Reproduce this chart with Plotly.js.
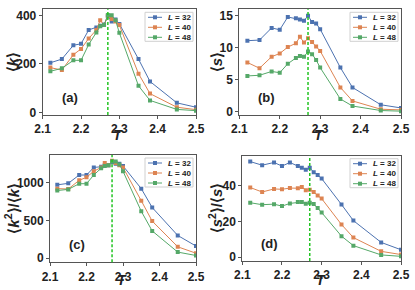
<!DOCTYPE html>
<html>
<head>
<meta charset="utf-8">
<script src="https://cdn.plot.ly/plotly-3.0.1.min.js"></script>
<style>html,body{margin:0;padding:0;background:#fff;}#chart{width:415px;height:290px;}</style>
</head>
<body>
<div id="chart"></div>
<script>
const T = [2.12, 2.15, 2.18, 2.20, 2.22, 2.24, 2.25, 2.26, 2.27, 2.28, 2.29, 2.30, 2.35, 2.38, 2.45, 2.50];
const Tc = 2.27;
const sizesL = ["32", "40", "48"];

const k32 = [205, 220, 277, 283, 340, 350, 357, 362, 395, 375, 383, 365, 220, 128, 40, 22];
const k40 = [185, 175, 238, 262, 305, 340, 380, 360, 398, 385, 375, 360, 160, 78, 22, 12];
const k48 = [170, 182, 215, 215, 280, 330, 355, 360, 402, 400, 380, 328, 110, 50, 13, 8];

const s32 = [11.1, 11.2, 13.1, 12.8, 14.8, 14.6, 14.4, 14.2, 15.0, 14.0, 13.8, 12.9, 6.9, 3.8, 1.1, 0.6];
const s40 = [7.7, 6.8, 8.6, 9.1, 10.1, 10.7, 11.7, 10.8, 11.5, 10.9, 10.2, 9.5, 3.8, 1.7, 0.4, 0.3];
const s48 = [5.6, 5.7, 6.3, 6.1, 7.5, 8.4, 8.7, 8.6, 9.4, 9.0, 8.1, 6.9, 2.0, 0.9, 0.2, 0.1];

const kk32 = [970, 990, 1100, 1100, 1200, 1210, 1230, 1230, 1270, 1250, 1250, 1220, 920, 670, 300, 160];
const kk40 = [920, 915, 1030, 1070, 1150, 1200, 1260, 1230, 1290, 1260, 1230, 1200, 760, 490, 150, 65];
const kk48 = [895, 910, 985, 985, 1100, 1190, 1220, 1230, 1280, 1280, 1240, 1150, 620, 360, 80, 35];

const ss32 = [53.5, 51.5, 53, 51, 53, 51, 50, 49, 50, 47.5, 46, 44, 29.5, 20.5, 8.3, 4.2];
const ss40 = [39, 36.5, 38.2, 38, 38.7, 38.6, 39.3, 37.5, 37.8, 36.5, 34.5, 32.8, 18.3, 11, 3.3, 1.5];
const ss48 = [30.5, 29.4, 29.7, 28.6, 30.1, 30.9, 30.9, 29.9, 30.5, 29.8, 27.5, 25, 11.8, 6.5, 1.3, 0.5];

const colors = ["#4c72b0", "#dd8452", "#55a868"];
const FONT = "Liberation Sans, Arial, sans-serif";
const W = 415, H = 290;

// panel rectangles in pixels: left, right, top, bottom
const panels = [
  {data: [k32, k40, k48], n: "", rect: [42.7, 196, 9.3, 115], range: [-10, 425], ticks: [0, 200, 400],
   title: "⟨<i>k</i>⟩", label: "(a)", ytx: 12},
  {data: [s32, s40, s48], n: "2", rect: [239.3, 401, 9.3, 115], range: [-0.5, 16], ticks: [0, 5, 10, 15],
   title: "⟨<i>s</i>⟩", label: "(b)", ytx: 216},
  {data: [kk32, kk40, kk48], n: "3", rect: [50, 196, 155, 262.3], range: [-55, 1365], ticks: [0, 500, 1000],
   title: "⟨<i>k</i><sup>2</sup>⟩/⟨<i>k</i>⟩", label: "(c)", ytx: 12},
  {data: [ss32, ss40, ss48], n: "4", rect: [242.3, 401, 155.7, 261], range: [-2.1, 56.8], ticks: [0, 20, 40],
   title: "⟨<i>s</i><sup>2</sup>⟩/⟨<i>s</i>⟩", label: "(d)", ytx: 215}
];

const px = x => x / W;
const py = y => 1 - y / H;

const traces = [];
const shapes = [];
const annotations = [];
const layout = {
  width: W, height: H,
  margin: {l: 0, r: 0, t: 0, b: 0},
  paper_bgcolor: "#fff", plot_bgcolor: "#fff",
  showlegend: false
};

const tickfont = {family: FONT, size: 12, color: "#222", weight: "bold"};

panels.forEach(p => {
  const [l, r, t, b] = p.rect;
  const xa = "x" + p.n, ya = "y" + p.n;
  layout["xaxis" + p.n] = {
    domain: [px(l), px(r)], anchor: ya, range: [2.1, 2.5],
    tickvals: [2.1, 2.2, 2.3, 2.4, 2.5], ticktext: ["2.1", "2.2", "2.3", "2.4", "2.5"],
    showline: true, mirror: true, linecolor: "#555", linewidth: 1,
    ticks: "outside", ticklen: 3, tickcolor: "#555", showgrid: false, zeroline: false,
    tickfont: tickfont
  };
  layout["yaxis" + p.n] = {
    domain: [py(b), py(t)], anchor: xa, range: p.range, tickvals: p.ticks,
    showline: true, mirror: true, linecolor: "#555", linewidth: 1,
    ticks: "outside", ticklen: 3, tickcolor: "#555", showgrid: false, zeroline: false,
    tickfont: tickfont
  };
  p.data.forEach((vals, i) => {
    traces.push({
      x: T, y: vals, xaxis: xa, yaxis: ya,
      type: "scatter", mode: "lines+markers", name: "L = " + sizesL[i],
      line: {color: colors[i], width: 1},
      marker: {color: colors[i], symbol: "square", size: 4}
    });
  });
  // critical temperature line
  shapes.push({
    type: "line", xref: xa, yref: ya + " domain", x0: Tc, x1: Tc, y0: 0, y1: 1,
    line: {color: "#22c422", width: 1.5, dash: "3px,2px"}
  });
  // panel label
  annotations.push({
    text: p.label, showarrow: false, xref: "paper", yref: "paper",
    x: px(l + 27), y: py(b - 18), xanchor: "center", yanchor: "middle",
    font: {family: FONT, size: 13, color: "#222", weight: "bold"}
  });
  // x-axis title
  const tBottom = Math.min(b + 29, H - 1);
  annotations.push({
    text: "<i>T</i>", showarrow: false, xref: "paper", yref: "paper",
    x: px((l + r) / 2 - 1), y: py(tBottom), xanchor: "center", yanchor: "bottom",
    borderpad: 0,
    font: {family: FONT, size: 14, color: "#222", weight: "bold"}
  });
  // y-axis title
  annotations.push({
    text: p.title, showarrow: false, xref: "paper", yref: "paper", textangle: -90,
    x: px(p.ytx), y: py((t + b) / 2), xanchor: "center", yanchor: "middle",
    font: {family: FONT, size: 15, color: "#222", weight: "bold"}
  });
  // compact legend box
  const bx1 = r - 3, bx0 = r - 51, by0 = t + 3, by1 = t + 32;
  shapes.push({
    type: "rect", xref: "paper", yref: "paper",
    x0: px(bx0), x1: px(bx1), y0: py(by1), y1: py(by0),
    line: {color: "#d0d0d0", width: 1}, fillcolor: "rgba(255,255,255,0.85)"
  });
  sizesL.forEach((s, i) => {
    const yc = by0 + 5 + i * 10;
    shapes.push({
      type: "line", xref: "paper", yref: "paper",
      x0: px(bx0 + 3), x1: px(bx0 + 17), y0: py(yc), y1: py(yc),
      line: {color: colors[i], width: 1}
    });
    shapes.push({
      type: "rect", xref: "paper", yref: "paper",
      x0: px(bx0 + 8), x1: px(bx0 + 12), y0: py(yc + 2), y1: py(yc - 2),
      line: {width: 0}, fillcolor: colors[i]
    });
    annotations.push({
      text: "<i>L</i> = " + s, showarrow: false, xref: "paper", yref: "paper",
      x: px(bx0 + 21), y: py(yc), xanchor: "left", yanchor: "middle",
      font: {family: FONT, size: 8, color: "#222", weight: "bold"}
    });
  });
});

layout.shapes = shapes;
layout.annotations = annotations;

Plotly.newPlot("chart", traces, layout, {staticPlot: true, displayModeBar: false});
</script>
</body>
</html>
